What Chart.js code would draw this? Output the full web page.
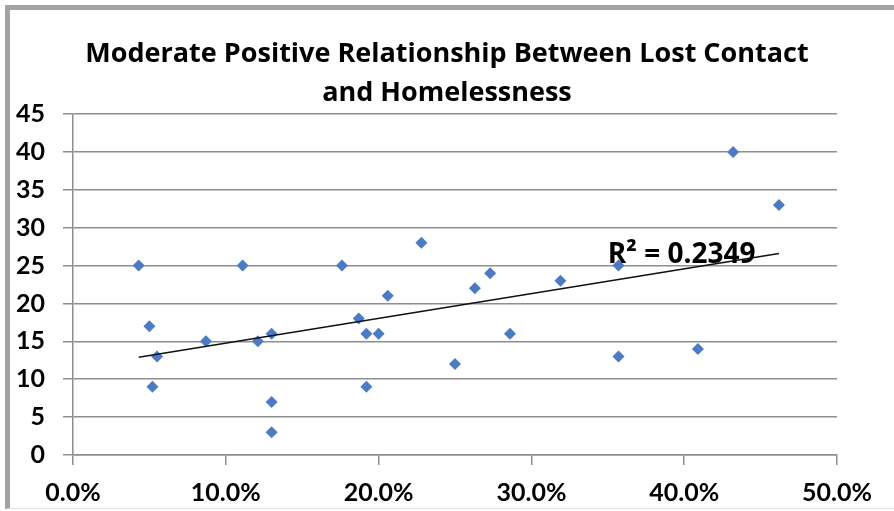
<!DOCTYPE html>
<html>
<head>
<meta charset="utf-8">
<title>Lost Contact vs Homelessness</title>
<script src="https://cdn.jsdelivr.net/npm/chart.js@4.4.1/dist/chart.umd.min.js"></script>
<style>
    html, body {
        margin: 0;
        padding: 0;
        background: #fff;
    }
    #wrap {
        position: relative;
        width: 894px;
        height: 511px;
        overflow: hidden;
    }
    #frame {
        position: absolute;
        left: 5px;
        top: 5px;
        width: 900px;
        height: 498px;
        border-top: 5px solid #a3a3a3;
        border-left: 5px solid #a3a3a3;
        border-bottom: 1px solid #e2e2e2;
        pointer-events: none;
    }
    #chart {
        position: absolute;
        left: 0;
        top: 0;
    }
</style>
</head>
<body>
<div id="wrap">
    <div id="frame"></div>
    <canvas id="chart" width="894" height="511"></canvas>
</div>
<script>
// lost contact rate (%) per area
const lostContact = [4.3, 5.0, 5.2, 5.5, 8.7, 11.1, 12.1, 13.0, 13.0, 13.0, 17.6, 18.7, 19.2, 19.2, 20.0, 20.6, 22.8, 25.0, 26.3, 27.3, 28.6, 31.9, 35.7, 35.7, 40.9, 43.2, 46.2];
// homelessness count per area
const homelessness = [25, 17, 9, 13, 15, 25, 15, 16, 7, 3, 25, 18, 16, 9, 16, 21, 28, 12, 22, 24, 16, 23, 25, 13, 14, 40, 33];

// linear trendline ends
const trendX = [4.3, 46.2];
const trendY = [12.9, 26.6];

const titleLines = ["Moderate Positive Relationship Between Lost Contact", "and Homelessness"];
const rSquaredText = "R\u00B2 = 0.2349";
const rSquaredAt = { x: 35.0, y: 25.4 };

const FONT = "Lato, 'Open Sans', sans-serif";
const WIDE_FONT = "'Open Sans', Lato, sans-serif";
const GRID = "#8e8e8e";

const rSquaredLabel = {
    id: "rSquaredLabel",
    afterDatasetsDraw(chart) {
        const { ctx, scales } = chart;
        const px = scales.x.getPixelForValue(rSquaredAt.x);
        const py = scales.y.getPixelForValue(rSquaredAt.y);
        ctx.save();
        ctx.font = "bold 28px " + WIDE_FONT;
        ctx.fillStyle = "#000";
        ctx.textAlign = "left";
        ctx.textBaseline = "alphabetic";
        ctx.fillText(rSquaredText, px, py);
        ctx.restore();
    }
};

const points = lostContact.map((x, i) => ({ x: x, y: homelessness[i] }));
const trend = trendX.map((x, i) => ({ x: x, y: trendY[i] }));

new Chart(document.getElementById("chart"), {
    type: "scatter",
    data: {
        datasets: [
            {
                label: "Homelessness",
                data: points,
                pointStyle: "rectRot",
                pointRadius: 6,
                pointHoverRadius: 6,
                backgroundColor: "#4a7bc8",
                borderColor: "#4a7bc8",
                borderWidth: 0,
                order: 1
            },
            {
                type: "line",
                label: "Trend",
                data: trend,
                borderColor: "#111",
                borderWidth: 1.5,
                pointRadius: 0,
                fill: false,
                order: 0
            }
        ]
    },
    options: {
        responsive: false,
        animation: false,
        layout: {
            padding: 0
        },
        plugins: {
            legend: { display: false },
            tooltip: { enabled: false },
            title: {
                display: true,
                text: titleLines,
                color: "#000",
                font: { family: WIDE_FONT, size: 27, weight: "bold", lineHeight: 1.45 },
                padding: { top: 35, bottom: 0.7 }
            }
        },
        scales: {
            x: {
                type: "linear",
                min: 0,
                max: 50,
                border: { display: true, color: GRID, width: 1.5 },
                grid: {
                    drawOnChartArea: false,
                    drawTicks: true,
                    tickLength: 10,
                    color: GRID,
                    lineWidth: 1.5
                },
                ticks: {
                    stepSize: 10,
                    padding: 13,
                    color: "#000",
                    font: { family: FONT, size: 25, weight: "bold" },
                    callback: v => v.toFixed(1) + "%"
                },
                afterFit: scale => { scale.height = 56; }
            },
            y: {
                min: 0,
                max: 45,
                border: { display: true, color: GRID, width: 1.5 },
                grid: {
                    drawTicks: true,
                    tickLength: 10,
                    color: GRID,
                    lineWidth: 1.5
                },
                ticks: {
                    stepSize: 5,
                    padding: 18,
                    color: "#000",
                    font: { family: FONT, size: 25, weight: "bold" }
                },
                afterFit: scale => { scale.width = 73; }
            },
            // empty right-hand spacer so the title stays centred on the whole canvas
            spacer: {
                type: "linear",
                position: "right",
                display: true,
                border: { display: false },
                grid: { display: false },
                ticks: { display: false },
                afterFit: scale => { scale.width = 57; }
            }
        }
    },
    plugins: [rSquaredLabel]
});
</script>
</body>
</html>
